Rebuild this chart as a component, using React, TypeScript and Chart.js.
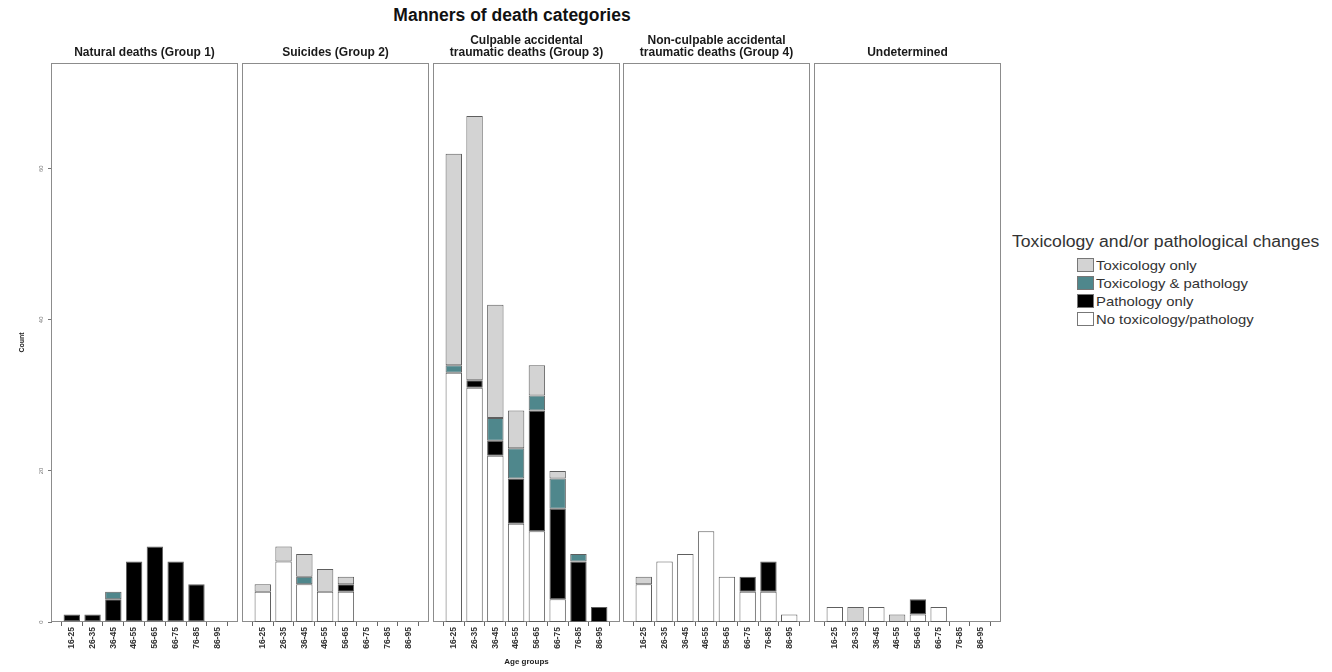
import React, { useEffect, useRef } from "react";
import { Chart, registerables } from "chart.js";

Chart.register(...registerables);

// ---------- data ----------
const ageGroups = ["16-25", "26-35", "36-45", "46-55", "56-65", "66-75", "76-85", "86-95"];
const yTicks = [0, 20, 40, 60];

const panelTitles = [
  ["Natural deaths (Group 1)"],
  ["Suicides (Group 2)"],
  ["Culpable accidental", "traumatic deaths (Group 3)"],
  ["Non-culpable accidental", "traumatic deaths (Group 4)"],
  ["Undetermined"],
];

const seriesNames = ["No toxicology/pathology", "Pathology only", "Toxicology & pathology", "Toxicology only"];
const seriesColors = ["#ffffff", "#000000", "#4f878c", "#d3d3d3"];

// Natural deaths (Group 1)
const naturalNone = [0, 0, 0, 0, 0, 0, 0, 0];
const naturalPath = [1, 1, 3, 8, 10, 8, 5, 0];
const naturalBoth = [0, 0, 1, 0, 0, 0, 0, 0];
const naturalTox = [0, 0, 0, 0, 0, 0, 0, 0];

// Suicides (Group 2)
const suicideNone = [4, 8, 5, 4, 4, 0, 0, 0];
const suicidePath = [0, 0, 0, 0, 1, 0, 0, 0];
const suicideBoth = [0, 0, 1, 0, 0, 0, 0, 0];
const suicideTox = [1, 2, 3, 3, 1, 0, 0, 0];

// Culpable accidental traumatic deaths (Group 3)
const culpableNone = [33, 31, 22, 13, 12, 3, 0, 0];
const culpablePath = [0, 1, 2, 6, 16, 12, 8, 2];
const culpableBoth = [1, 0, 3, 4, 2, 4, 1, 0];
const culpableTox = [28, 35, 15, 5, 4, 1, 0, 0];

// Non-culpable accidental traumatic deaths (Group 4)
const nonCulpableNone = [5, 8, 9, 12, 6, 4, 4, 1];
const nonCulpablePath = [0, 0, 0, 0, 0, 2, 4, 0];
const nonCulpableBoth = [0, 0, 0, 0, 0, 0, 0, 0];
const nonCulpableTox = [1, 0, 0, 0, 0, 0, 0, 0];

// Undetermined
const undeterminedNone = [2, 0, 2, 0, 1, 2, 0, 0];
const undeterminedPath = [0, 0, 0, 0, 2, 0, 0, 0];
const undeterminedBoth = [0, 0, 0, 0, 0, 0, 0, 0];
const undeterminedTox = [0, 2, 0, 1, 0, 0, 0, 0];

const groups = [
  [naturalNone, naturalPath, naturalBoth, naturalTox],
  [suicideNone, suicidePath, suicideBoth, suicideTox],
  [culpableNone, culpablePath, culpableBoth, culpableTox],
  [nonCulpableNone, nonCulpablePath, nonCulpableBoth, nonCulpableTox],
  [undeterminedNone, undeterminedPath, undeterminedBoth, undeterminedTox],
];

// ---------- layout ----------
const FONT = "'Liberation Sans', Arial, Helvetica, sans-serif";
const PANEL_LEFTS = [51, 242, 433, 623, 814];
const PANEL_W = 187;
const PLOT_TOP = 63;
const PLOT_BOTTOM = 622;
const PAD_TOP = 32;
const XAXIS_H = 48;
const SIDE_PAD = 4;
const Y_AXIS_W = 51;

const panelPlugin = {
  id: "panelDecor",
  beforeDatasetsDraw(chart: any) {
    const { ctx, chartArea: a } = chart;
    ctx.save();
    ctx.strokeStyle = "#8c8c8c";
    ctx.lineWidth = 1;
    ctx.strokeRect(Math.round(a.left) + 0.5, Math.round(a.top) + 0.5, Math.round(a.right - a.left) - 1, Math.round(a.bottom - a.top) - 1);
    ctx.restore();
  },
  afterDraw(chart: any, _args: any, opts: any) {
    const { ctx, chartArea: a } = chart;
    const lines: string[] = opts.lines || [];
    ctx.save();
    ctx.fillStyle = "#1a1a1a";
    ctx.font = `bold 12px ${FONT}`;
    ctx.textAlign = "center";
    ctx.textBaseline = "middle";
    const cx = (a.left + a.right) / 2;
    const n = lines.length;
    lines.forEach((t, i) => {
      ctx.fillText(t, cx, a.top - 10 - (n - 1 - i) * 12.5);
    });
    ctx.restore();
  },
};

function Panel({ index }: { index: number }) {
  const ref = useRef<HTMLCanvasElement>(null);
  const L = PANEL_LEFTS[index];
  const isFirst = index === 0;
  const canvasLeft = isFirst ? L - Y_AXIS_W : L - SIDE_PAD;
  const width = isFirst ? Y_AXIS_W + PANEL_W + SIDE_PAD : PANEL_W + 2 * SIDE_PAD;
  const top = PLOT_TOP - PAD_TOP;
  const height = PAD_TOP + (PLOT_BOTTOM - PLOT_TOP) + XAXIS_H;

  useEffect(() => {
    const series = groups[index];
    const datasets = series.map((vals, s) => ({
      label: seriesNames[s],
      data: vals.map((v, i) => ({ x: i, y: v === 0 ? null : v })),
      backgroundColor: seriesColors[s],
      borderColor: "#5e5e5e",
      borderWidth: 1,
      borderSkipped: false,
      barPercentage: 0.79,
      categoryPercentage: 1,
    }));
    const chart = new Chart(ref.current as HTMLCanvasElement, {
      type: "bar",
      data: { datasets } as any,
      plugins: [panelPlugin as any],
      options: {
        animation: false,
        responsive: false,
        maintainAspectRatio: false,
        layout: { padding: { top: PAD_TOP, left: isFirst ? 0 : SIDE_PAD, right: SIDE_PAD, bottom: 0 } },
        plugins: {
          legend: { display: false },
          tooltip: { enabled: false },
          title: { display: false },
          panelDecor: { lines: panelTitles[index] },
        } as any,
        scales: {
          x: {
            type: "linear",
            min: -1,
            max: ageGroups.length,
            stacked: true,
            offset: false,
            afterBuildTicks: (s: any) => {
              s.ticks = ageGroups.map((_, i) => ({ value: i }));
            },
            afterFit: (s: any) => {
              s.height = XAXIS_H;
            },
            ticks: {
              autoSkip: false,
              minRotation: 90,
              maxRotation: 90,
              padding: 1,
              color: "#333",
              font: { family: FONT, size: 8.5, weight: "bold" },
              callback: (v: any) => ageGroups[v as number],
            },
            grid: { drawOnChartArea: false, drawTicks: true, tickLength: 4, color: "#666" },
            border: { display: false },
            title: {
              display: index === 2,
              text: "Age groups",
              color: "#222",
              font: { family: FONT, size: 8, weight: "bold" },
              padding: { top: 0, bottom: 3 },
            },
          } as any,
          y: {
            type: "linear",
            min: 0,
            max: 74,
            stacked: true,
            display: isFirst,
            afterBuildTicks: (s: any) => {
              s.ticks = yTicks.map((v) => ({ value: v }));
            },
            afterFit: (s: any) => {
              s.width = isFirst ? Y_AXIS_W : 0;
            },
            ticks: {
              minRotation: 90,
              maxRotation: 90,
              crossAlign: "center",
              padding: 3,
              color: "#777",
              font: { family: FONT, size: 6 },
            },
            grid: { drawOnChartArea: false, drawTicks: true, tickLength: 3, color: "#777" },
            border: { display: true, color: "#777" },
            title: {
              display: true,
              text: "Count",
              color: "#222",
              font: { family: FONT, size: 7, weight: "bold" },
              padding: { top: 18, bottom: 0 },
            },
          } as any,
        },
      },
    });
    return () => chart.destroy();
  }, [index]);

  return (
    <canvas
      ref={ref}
      width={width}
      height={height}
      style={{ position: "absolute", left: canvasLeft, top, width, height }}
    />
  );
}

const legendOrder = [3, 2, 1, 0];

export default function App() {
  return (
    <div style={{ position: "absolute", left: 0, top: 0, width: 1332, height: 672, background: "#fff", fontFamily: FONT }}>
      <div
        style={{
          position: "absolute",
          left: 312,
          width: 400,
          top: 5,
          textAlign: "center",
          fontWeight: "bold",
          fontSize: 17.5,
          color: "#111",
        }}
      >
        Manners of death categories
      </div>
      {panelTitles.map((_, i) => (
        <Panel key={i} index={i} />
      ))}
      <div
        style={{
          position: "absolute",
          left: 1012,
          top: 233,
          fontSize: 16,
          color: "#333",
          whiteSpace: "nowrap",
          transform: "scaleX(1.1)",
          transformOrigin: "left center",
        }}
      >
        Toxicology and/or pathological changes
      </div>
      {legendOrder.map((s, r) => (
        <div key={s} style={{ position: "absolute", left: 1077, top: 258 + r * 18, height: 14, display: "flex", alignItems: "center" }}>
          <div style={{ width: 15, height: 12, background: seriesColors[s], border: "1px solid #777", boxSizing: "content-box" }} />
          <div
            style={{
              marginLeft: 2,
              fontSize: 13.5,
              color: "#333",
              whiteSpace: "nowrap",
              transform: "scaleX(1.1)",
              transformOrigin: "left center",
            }}
          >
            {seriesNames[s]}
          </div>
        </div>
      ))}
    </div>
  );
}
